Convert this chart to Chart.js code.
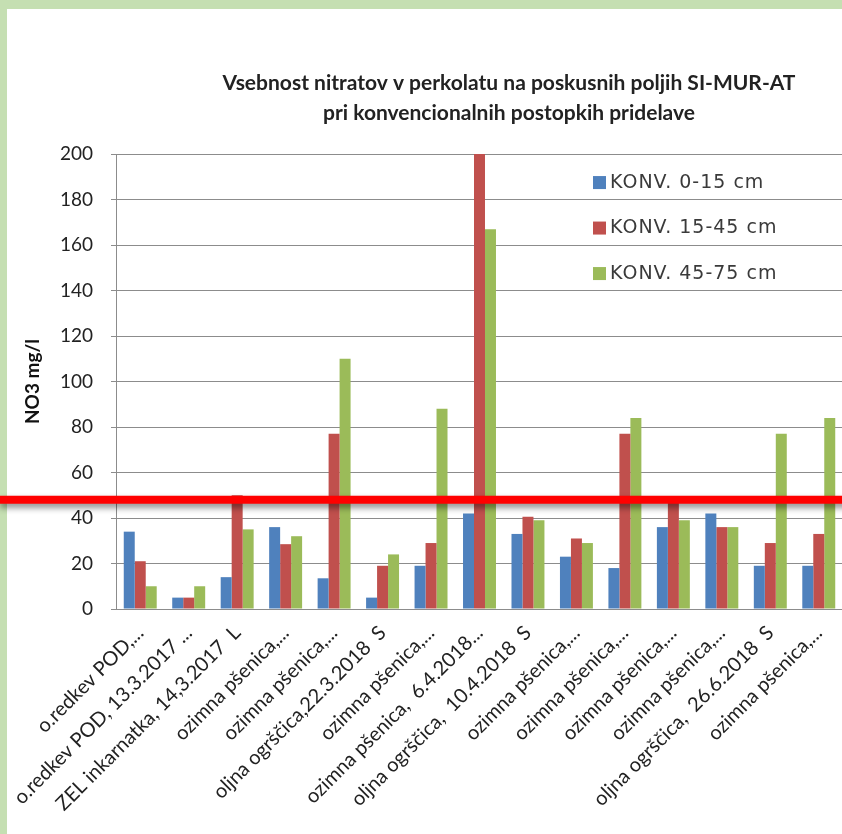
<!DOCTYPE html>
<html>
<head>
<meta charset="utf-8">
<script src="https://cdn.jsdelivr.net/npm/chart.js@4.4.1/dist/chart.umd.min.js"></script>
<style>
  html, body { margin: 0; padding: 0; overflow: hidden; background: #fff; }
  #wrap { width: 842px; height: 834px; overflow: hidden; position: relative; }
  #box { width: 1010px; height: 834px; }
</style>
</head>
<body>
<div id="wrap"><div id="box"><canvas id="chart"></canvas></div></div>
<script>
// categories (x axis labels, as shown - truncated in the original)
const categories = [
  'o.redkev POD,...',
  'o.redkev POD, 13.3.2017 ...',
  'ZEL inkarnatka, 14,3.2017  L',
  'ozimna pšenica,...',
  'ozimna pšenica,...',
  'oljna ogrščica,22.3.2018  S',
  'ozimna pšenica,...',
  'ozimna pšenica,  6.4.2018...',
  'oljna ogrščica,  10.4.2018  S',
  'ozimna pšenica,...',
  'ozimna pšenica,...',
  'ozimna pšenica,...',
  'ozimna pšenica,...',
  'oljna ogrščica,  26.6.2018  S',
  'ozimna pšenica,...'
];

// NO3 mg/l per depth
const konv0to15  = [34, 5, 14, 36, 13.5, 5, 19, 42, 33, 23, 18, 36, 42, 19, 19];
const konv15to45 = [21, 5, 50, 28.5, 77, 19, 29, 200, 40.5, 31, 77, 47, 36, 29, 33];
const konv45to75 = [10, 10, 35, 32, 110, 24, 88, 167, 39, 29, 84, 39, 36, 77, 84];

const seriesNames = ['KONV. 0-15 cm', 'KONV. 15-45 cm', 'KONV. 45-75 cm'];
const yTicks = { min: 0, max: 200, step: 20 };
const limitLine = 48;

const titleLines = [
  'Vsebnost nitratov v perkolatu na poskusnih poljih SI-MUR-AT',
  'pri konvencionalnih postopkih pridelave'
];

const FONT = 'Lato';

// green frame behind the white chart
const framePlugin = {
  id: 'frame',
  beforeDraw(chart) {
    const ctx = chart.ctx;
    ctx.save();
    ctx.fillStyle = '#c5dfb2';
    ctx.fillRect(0, 0, chart.width, chart.height);
    ctx.fillStyle = '#ffffff';
    ctx.fillRect(7, 9, chart.width, chart.height);
    ctx.restore();
  }
};

// legend drawn inside the plot area
const innerLegend = {
  id: 'innerLegend',
  afterDatasetsDraw(chart) {
    const ctx = chart.ctx;
    const a = chart.chartArea;
    ctx.save();
    ctx.font = '19px "DejaVu Sans"';
    ctx.letterSpacing = '1px';
    ctx.textBaseline = 'middle';
    chart.data.datasets.forEach((ds, i) => {
      const x = a.left + 477;
      const y = a.top + 29 + i * 45.5;
      ctx.fillStyle = ds.backgroundColor;
      ctx.fillRect(x, y - 7, 13, 13);
      ctx.fillStyle = '#3a3a3a';
      ctx.fillText(ds.label, x + 17, y);
    });
    ctx.restore();
  }
};

// red limit line across the whole picture
const limitPlugin = {
  id: 'limit',
  afterDraw(chart) {
    const ctx = chart.ctx;
    const y = chart.scales.y.getPixelForValue(limitLine);
    ctx.save();
    ctx.shadowColor = 'rgba(0,0,0,0.45)';
    ctx.shadowBlur = 6;
    ctx.shadowOffsetY = 4;
    ctx.strokeStyle = '#ff0000';
    ctx.lineWidth = 8;
    ctx.beginPath();
    ctx.moveTo(0, y);
    ctx.lineTo(chart.width, y);
    ctx.stroke();
    ctx.restore();
  }
};

const ctx = document.getElementById('chart');

new Chart(ctx, {
  type: 'bar',
  data: {
    labels: categories,
    datasets: [
      { label: seriesNames[0], data: konv0to15,  backgroundColor: '#4f81bd' },
      { label: seriesNames[1], data: konv15to45, backgroundColor: '#c0504d' },
      { label: seriesNames[2], data: konv45to75, backgroundColor: '#9bbb59' }
    ]
  },
  options: {
    responsive: true,
    maintainAspectRatio: false,
    animation: false,
    datasets: { bar: { categoryPercentage: 0.68, barPercentage: 1.0 } },
    layout: { padding: { left: 8, top: 9, right: 0, bottom: 0 } },
    plugins: {
      legend: { display: false },
      tooltip: { enabled: false },
      title: {
        display: true,
        text: titleLines,
        color: '#222',
        font: { family: FONT, size: 21, weight: 'bold', lineHeight: 1.43 },
        padding: { top: 59, bottom: 26 }
      }
    },
    scales: {
      x: {
        grid: { display: false },
        border: { color: '#8c8c8c' },
        ticks: {
          autoSkip: false, maxRotation: 45, minRotation: 45,
          color: '#222', padding: 4,
          font: { family: FONT, size: 20 }
        },
        afterFit(scale) { scale.height = 225; }
      },
      y: {
        min: yTicks.min, max: yTicks.max,
        ticks: { stepSize: yTicks.step, padding: 18, color: '#222', font: { family: FONT, size: 19 } },
        grid: { color: '#8c8c8c', tickLength: 5 },
        border: { color: '#8c8c8c' },
        title: {
          display: true, text: 'NO3 mg/l', color: '#111',
          font: { family: FONT, size: 19, weight: 'bold' },
          padding: { top: 13, bottom: 0 }
        },
        afterFit(scale) { scale.width = 108; }
      },
      yR: {
        position: 'right',
        grid: { display: false },
        border: { display: false },
        ticks: { display: false },
        afterFit(scale) { scale.width = 167; }
      }
    }
  },
  plugins: [framePlugin, innerLegend, limitPlugin]
});
</script>
</body>
</html>
